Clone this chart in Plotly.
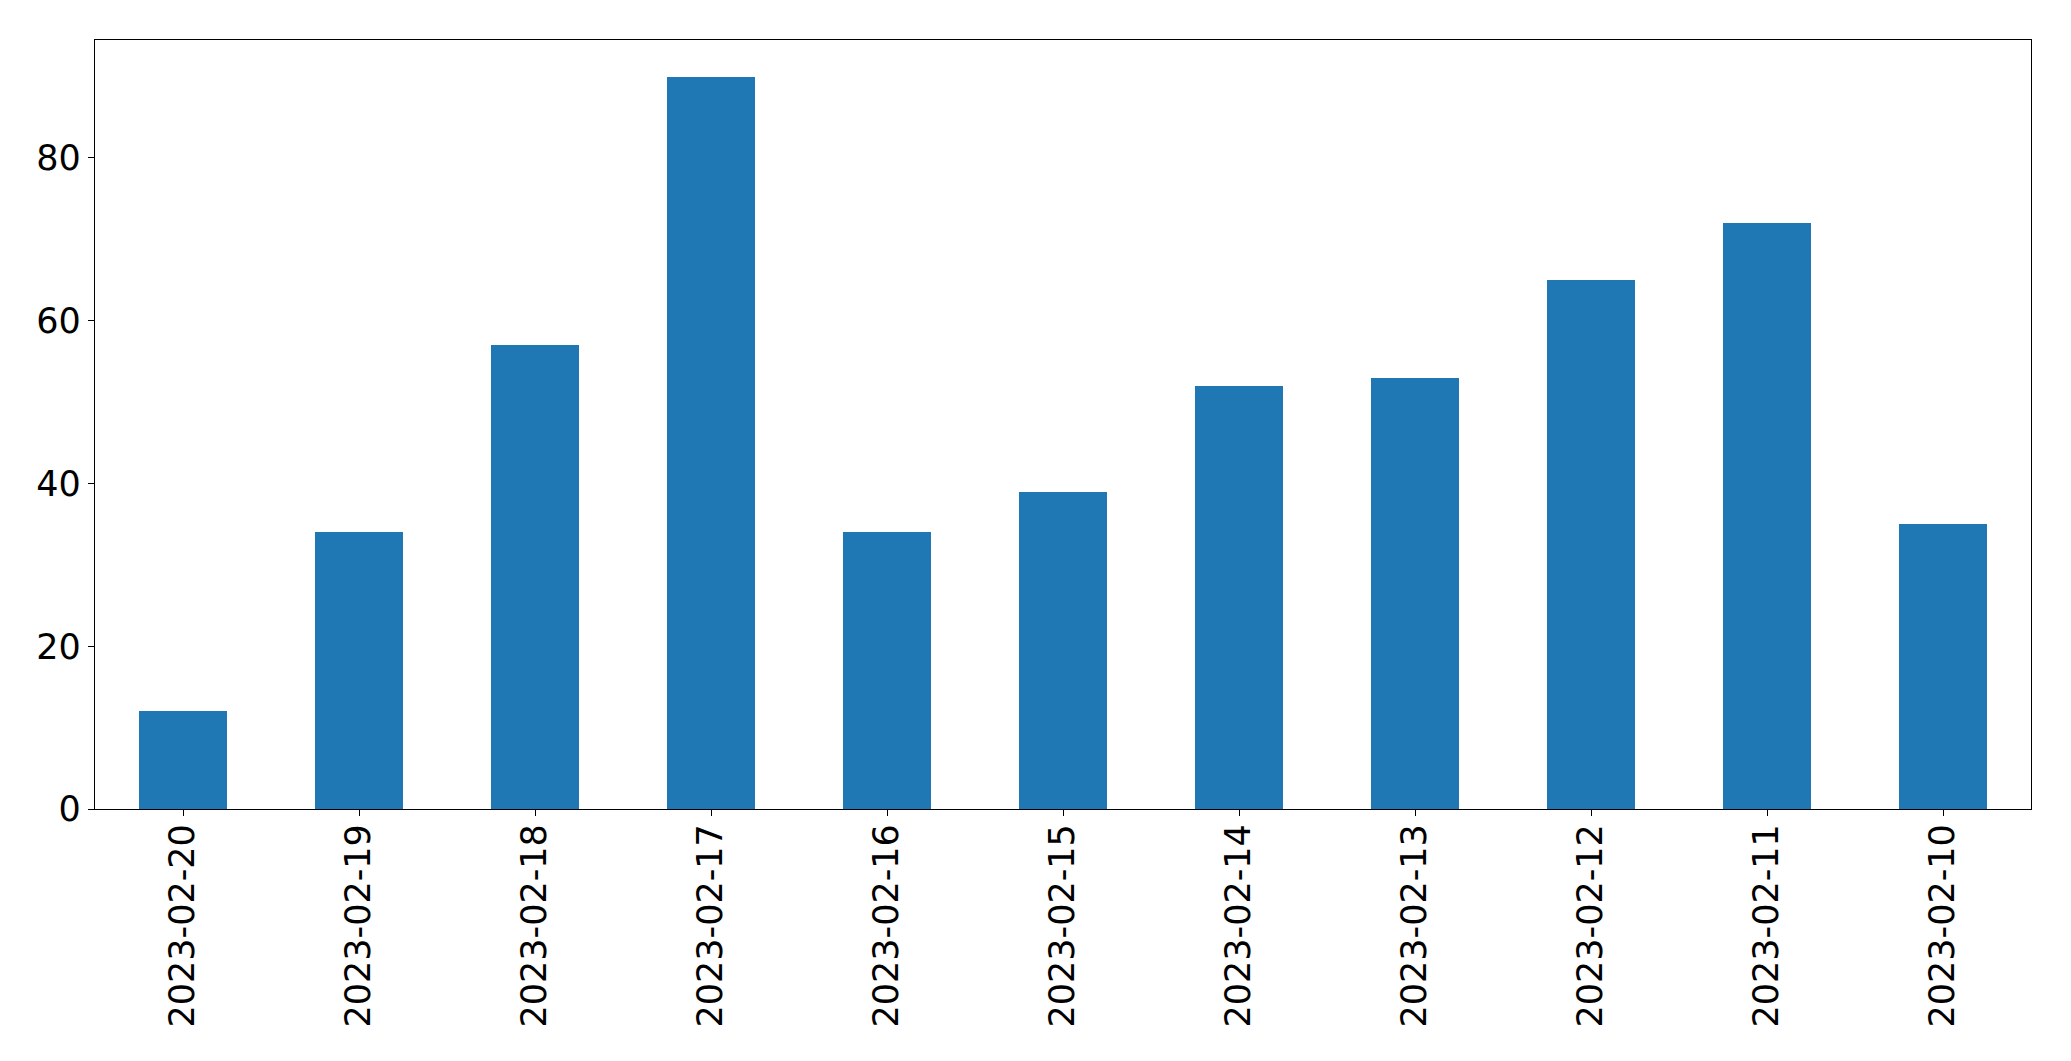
import plotly.graph_objects as go

dates = ["2023-02-20", "2023-02-19", "2023-02-18", "2023-02-17", "2023-02-16", "2023-02-15",
         "2023-02-14", "2023-02-13", "2023-02-12", "2023-02-11", "2023-02-10"]
counts = [12, 34, 57, 90, 34, 39, 52, 53, 65, 72, 35]
y_ticks = [0, 20, 40, 60, 80]

fig = go.Figure(go.Bar(x=dates, y=counts, width=0.5, marker=dict(color="#1f77b4", line=dict(width=0))))

fig.update_layout(
    width=2063, height=1053,
    margin=dict(l=86.5, r=39.5, t=31.5, b=252, autoexpand=False),
    plot_bgcolor="white", paper_bgcolor="white",
    font=dict(family="DejaVu Sans", size=35, color="black"),
    showlegend=False,
    bargap=0,
)
fig.update_xaxes(
    type="category", range=[-0.5, 10.5], tickangle=-90,
    showline=True, mirror=True, linecolor="black", linewidth=1.3,
    ticks="outside", ticklen=6, tickwidth=1.3, tickcolor="black",
    showgrid=False, tickfont=dict(size=35), ticklabelstandoff=-6,
)
fig.update_yaxes(
    range=[0, 94.5], tickvals=y_ticks,
    showline=True, mirror=True, linecolor="black", linewidth=1.3,
    ticks="outside", ticklen=6, tickwidth=1.3, tickcolor="black",
    showgrid=False, zeroline=False, tickfont=dict(size=35),
)

fig.write_html("out.html")
